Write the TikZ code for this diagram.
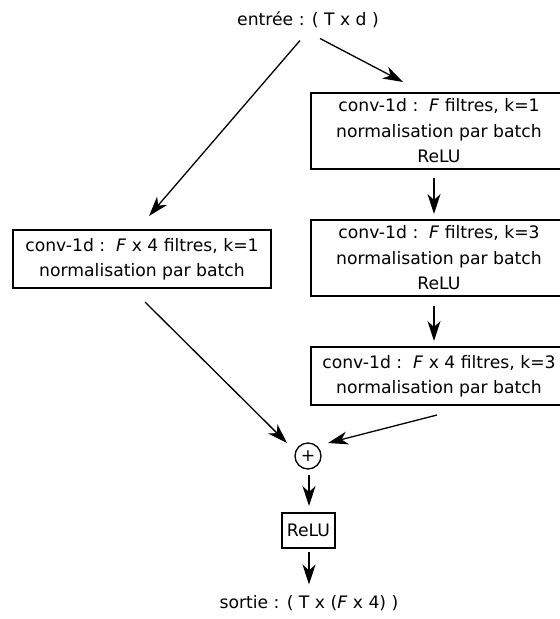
\documentclass[tikz,border=0pt]{standalone}
\usepackage{fontspec}
\setmainfont{DejaVu Sans}[ItalicFont={DejaVu Sans Oblique}]
\usetikzlibrary{arrows.meta,calc}
\begin{document}
\begin{tikzpicture}[x=1pt,y=-1pt,
  every node/.style={font=\fontsize{17.2}{25.5}\selectfont, inner sep=0pt},
  blk/.style={draw, line width=1.3pt, align=center, minimum width=256pt},
  arr/.style={line width=1.3pt, -{Stealth[length=20pt,width=13pt,inset=6pt]}}]
\useasboundingbox (0,0) rectangle (560,619);
\node (in) at (308,19.5) {entrée : ( T x d )};
\node[blk, minimum height=76pt] (b1) at (439,131) {conv-1d :\ \ \textit{F} filtres, k=1\\normalisation par batch\\ReLU};
\node[blk, minimum height=76pt] (b2) at (439,258) {conv-1d :\ \ \textit{F} filtres, k=3\\normalisation par batch\\ReLU};
\node[blk, minimum height=58pt] (b3) at (439,376) {conv-1d :\ \ \textit{F} x 4 filtres, k=3\\normalisation par batch};
\node[blk, minimum width=258pt, minimum height=58pt] (lb) at (142,259) {conv-1d :\ \ \textit{F} x 4 filtres, k=1\\normalisation par batch};
\node[draw, circle, line width=1.3pt, minimum size=26pt] (plus) at (308,456) {+};
\node[draw, line width=1.3pt, minimum width=53pt, minimum height=35pt] (relu) at (308.5,530.5) {ReLU};
\node (out) at (309,603.5) {sortie : ( T x (\textit{F} x 4) )};
\draw[arr] ($(in)+(12,19)$) -- ($(b1)+(-36,-49)$);
\draw[arr] ($(in)+(-8,21)$) -- ($(lb)+(7,-43)$);
\draw[arr] ($(b1)+(-5,47)$) -- ($(b2)+(-5,-44)$);
\draw[arr] ($(b2)+(-5,48)$) -- ($(b3)+(-5,-35)$);
\draw[arr] ($(lb)+(3,43)$) -- ($(plus)+(-21,-13)$);
\draw[arr] ($(b3)+(-2,39)$) -- ($(plus)+(20,-13)$);
\draw[arr] ($(plus)+(1,19)$) -- ($(relu)+(0.5,-24.5)$);
\draw[arr] ($(relu)+(0.5,21.5)$) -- ($(out)+(0,-19)$);
\end{tikzpicture}
\end{document}
